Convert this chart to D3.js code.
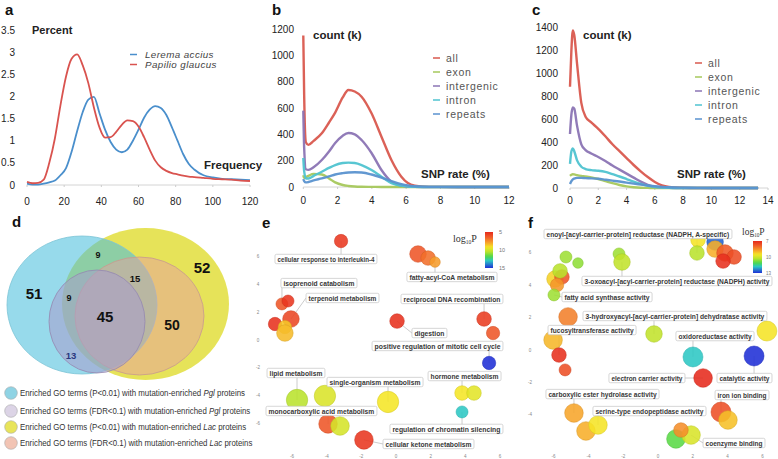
<!DOCTYPE html>
<html><head><meta charset="utf-8">
<script src="https://cdn.jsdelivr.net/npm/d3@7"></script>
<style>
body{margin:0;background:#fff;}
svg{display:block;font-family:"Liberation Sans",Arial,sans-serif;}
</style></head><body>
<svg id="chart" width="778" height="459"></svg>
<script>
// ---------- Panel a data ----------
const aSeries = ["Lerema accius", "Papilio glaucus"];
const aFreq = [0,3,6,9,12,15,18,21,24,27,30,33,36,39,42,45,48,51,54,57,60,63,66,69,72,75,78,81,84,87,90,95,100,105,110,115,120];
const aLerema = [0.03,0.01,0.01,0.03,0.06,0.1,0.22,0.38,0.75,1.22,1.65,1.93,1.99,1.62,1.25,0.97,0.8,0.74,0.8,1.0,1.25,1.52,1.7,1.78,1.74,1.58,1.3,1.0,0.7,0.48,0.35,0.22,0.17,0.14,0.13,0.12,0.11];
const aPapilio = [0.07,0.04,0.05,0.12,0.5,1.05,1.8,2.45,2.85,2.95,2.7,2.3,1.75,1.3,1.07,1.08,1.2,1.36,1.46,1.44,1.32,1.08,0.8,0.55,0.4,0.32,0.27,0.24,0.21,0.19,0.18,0.16,0.14,0.13,0.12,0.1,0.09];
const aYTicks = [0,0.5,1,1.5,2,2.5,3,3.5];
const aXTicks = [0,20,40,60,80,100,120];

// ---------- Panel b data ----------
const snpSeries = ["all","exon","intergenic","intron","repeats"];
const bRate = [0,0.05,0.15,0.3,0.6,1.08,1.5,1.86,2.3,2.63,3,3.4,3.98,4.56,5.14,5.72,6.1,6.5,7,8,9,10,11,12];
const bAll = [1150,700,340,320,350,408,490,565,680,737,725,686,560,382,205,78,30,10,3,1,0,0,0,0];
const bExon = [90,70,75,85,100,95,65,35,15,8,4,2,1,0,0,0,0,0,0,0,0,0,0,0];
const bIntergenic = [580,300,135,130,150,205,270,334,390,410,400,357,258,129,40,10,3,1,0,0,0,0,0,0];
const bIntron = [220,120,65,65,85,116,145,167,182,185,182,167,129,78,30,10,3,1,0,0,0,0,0,0];
const bRepeats = [60,45,35,38,50,65,80,95,105,110,112,110,95,72,45,22,12,6,3,1,0,0,0,0];
const bYTicks = [0,200,400,600,800,1000,1200];
const bXTicks = [0,2,4,6,8,10,12];

// ---------- Panel c data ----------
const cRate = [0,0.1,0.2,0.3,0.5,0.8,1.1,1.5,2,2.5,3,3.5,4,4.5,5,5.5,6,6.5,7,8,9,10,11,12,13,13.3];
const cAll = [880,1200,1370,1330,1080,740,620,570,515,450,380,320,260,200,145,95,52,22,9,2,0,0,0,0,0,0];
const cExon = [105,115,120,118,112,105,100,92,78,60,42,26,14,6,2,1,0,0,0,0,0,0,0,0,0,0];
const cIntergenic = [470,640,700,690,540,380,330,300,270,235,195,160,125,90,55,28,12,5,2,0,0,0,0,0,0,0];
const cIntron = [210,320,345,320,240,185,165,155,150,140,120,100,78,55,35,18,8,3,1,0,0,0,0,0,0,0];
const cRepeats = [35,60,75,82,88,88,86,84,80,72,64,56,47,38,30,22,15,10,6,3,1,0.5,0,0,0,0];
const cYTicks = [0,200,400,600,800,1000,1200,1400];
const cXTicks = [0,2,4,6,8,10,12,14];

// ---------- Panel d data ----------
const vennLegend = [
  ["Enriched GO terms (P<0.01) with mutation-enriched ", "Pgl", " proteins"],
  ["Enriched GO terms (FDR<0.1) with mutation-enriched ", "Pgl", " proteins"],
  ["Enriched GO terms (P<0.01) with mutation-enriched ", "Lac", " proteins"],
  ["Enriched GO terms (FDR<0.1) with mutation-enriched ", "Lac", " proteins"]
];
const vennCounts = [51, 9, 52, 15, 9, 45, 50, 13];

// ---------- Panel e data ----------
const eX = [-3.17,1.27,1.85,2.25,-6.58,-6.23,-6.06,-6.98,-6.41,-6.41,0.06,5.08,5.60,5.37,-5.71,-4.10,-0.46,3.81,4.50,3.81,-3.92,-3.23,-1.85];
const eY = [7.11,6.18,5.89,5.60,2.59,2.80,1.51,1.15,0.93,0.50,1.36,1.51,0.50,-1.65,-4.31,-4.02,-4.45,-3.81,-3.81,-5.17,-6.03,-6.18,-7.18];
const eSize = [390,600,465,245,315,315,600,390,390,600,465,465,390,390,1000,1000,1000,465,465,315,755,755,755];
const eLogP = [5.4,6.2,6.8,7.8,6.2,5.3,5.8,5.2,8.6,8.4,5.2,5.5,6.2,15,10.5,9.8,9.2,9.2,9.6,13,6.2,9.9,5.3];
const eTerms = ["cellular response to interleukin-4","fatty-acyl-CoA metabolism","isoprenoid catabolism","terpenoid metabolism","reciprocal DNA recombination","digestion","positive regulation of mitotic cell cycle","lipid metabolism","single-organism metabolism","hormone metabolism","monocarboxylic acid metabolism","regulation of chromatin silencing","cellular ketone metabolism"];
const eTicks = [-6,-4,-2,0,2,4,6];
const eColorTicks = [5,10,15];

// ---------- Panel f data ----------
const fX = [2.30,3.28,2.24,3.28,3.85,4.37,3.74,-5.29,-4.60,-2.24,-2.07,-5.92,-5.52,-5.63,-5.80,-5.98,-5.17,-6.03,-5.69,-5.34,-0.23,6.26,2.01,5.52,2.59,-4.83,-4.14,-3.45,3.62,4.02,1.03,1.90,1.32];
const fY = [6.79,6.67,5.99,6.23,5.99,5.74,5.49,5.74,5.37,5.93,5.43,4.38,4.51,4.88,4.01,3.40,2.04,0.62,-0.31,-1.23,0.99,1.17,-0.43,-0.37,-1.73,-3.89,-5.0,-4.63,-3.83,-4.32,-5.49,-5.25,-4.94];
const fSize = [465,600,465,600,600,465,465,315,245,315,600,600,465,465,390,315,755,755,465,315,600,873,873,873,755,755,755,755,873,755,755,755,465];
const fLogP = [9.5,12.6,10.3,8.9,7.8,7.6,7.1,10.5,10.6,10.5,10.2,9.3,7.7,10.3,8.6,10.5,8.3,9.0,7.1,7.6,10.2,9.5,11.8,13,7.0,8.8,8.9,9.5,7.6,9.1,11.0,9.9,8.5];
const fTerms = ["enoyl-[acyl-carrier-protein] reductase (NADPH, A-specific)","3-oxoacyl-[acyl-carrier-protein] reductase (NADPH) activity","fatty acid synthase activity","3-hydroxyacyl-[acyl-carrier-protein] dehydratase activity","fucosyltransferase activity","oxidoreductase activity","electron carrier activity","catalytic activity","carboxylic ester hydrolase activity","iron ion binding","serine-type endopeptidase activity","coenzyme binding"];
const fXTicks = [-6,-4,-2,0,2,4,6];
const fYTicks = [-4,-2,0,2,4,6];
const fColorTicks = [7,10,13];

// ---------- layout (annotation placement, in plot units) ----------
const eLabelLayout = [[-6.98,-1.10,5.82,0],[0.63,5.83,4.53,3],[-6.64,-2.25,4.09,4],[-5.19,-0.98,3.02,6],[0.29,6.17,2.95,11],[0.92,2.94,0.5,10],[-1.38,6.17,-0.43,13],[-7.44,-4.10,-2.37,14],[-3.98,1.56,-3.02,16],[1.85,6.06,-2.59,17],[-7.50,-1.10,-5.10,20],[-0.35,6.17,-6.39,19],[-0.75,4.50,-7.47,22]];
const fLabelLayout = [[-6.55,4.25,7.16,2],[-4.37,6.55,4.26,10],[-5.52,-0.34,3.27,15],[-4.31,6.26,2.10,20],[-6.32,-1.26,1.23,18],[1.03,5.52,0.86,22],[-2.82,1.55,-1.73,24],[3.39,6.55,-1.73,23],[-6.44,0.06,-2.72,25],[3.28,6.38,-2.78,28],[-3.74,2.76,-3.77,27],[2.59,6.15,-5.74,31]];

// ================= drawing =================
const svg = d3.select("#chart");
svg.append("rect").attr("width",778).attr("height",459).attr("fill","#fff");

function text(x,y,s,o={}){
  const t = svg.append("text").attr("x",x).attr("y",y).text(s)
    .attr("font-size",o.size||10).attr("fill",o.fill||"#222")
    .attr("text-anchor",o.anchor||"start");
  if(o.weight) t.attr("font-weight",o.weight);
  if(o.style) t.attr("font-style",o.style);
  if(o.family) t.attr("font-family",o.family);
  if(o.ls) t.attr("letter-spacing",o.ls);
  return t;
}
// text squeezed horizontally to a target width
function fitText(x,y,s,width,o={}){
  const g = svg.append("g").attr("transform",`translate(${x},${y})`);
  const t = g.append("text").attr("x",0).attr("y",0).text(s)
    .attr("font-size",o.size||8).attr("fill",o.fill||"#333");
  if(o.weight) t.attr("font-weight",o.weight);
  const w = t.node().getComputedTextLength();
  t.attr("transform",`scale(${Math.min(1,width/w)},1)`);
  return t;
}

// panel letters
[["a",5,15],["b",272,15],["c",532,15],["d",12,227],["e",262,228],["f",528,228]].forEach(d=>text(d[1],d[2],d[0],{size:15,weight:"bold",fill:"#111"}));

// ----- Panel a -----
{
  const x = d3.scaleLinear().domain([0,120]).range([27,250]);
  const y = d3.scaleLinear().domain([0,3.5]).range([185,30]);
  svg.append("line").attr("x1",x(0)).attr("x2",x(120)).attr("y1",y(0)).attr("y2",y(0)).attr("stroke","#d4d4d4");
  aXTicks.forEach(v=>{
    svg.append("line").attr("x1",x(v)).attr("x2",x(v)).attr("y1",y(0)).attr("y2",y(0)+2).attr("stroke","#ccc");
    text(x(v),205,v,{anchor:"middle",size:10});
  });
  aYTicks.forEach(v=>text(15,y(v)+3.5,v,{anchor:"end",size:10}));
  const line = d3.line().x((d,i)=>x(aFreq[i])).y(d=>y(d)).curve(d3.curveMonotoneX);
  const cols = ["#4a8fcc","#d9534f"];
  [aLerema,aPapilio].forEach((s,k)=>svg.append("path").attr("d",line(s)).attr("fill","none").attr("stroke",cols[k]).attr("stroke-width",1.8));
  aSeries.forEach((s,k)=>{
    const yy = 54.5+k*10;
    svg.append("line").attr("x1",130).attr("x2",137).attr("y1",yy).attr("y2",yy).attr("stroke",cols[k]).attr("stroke-width",1.5);
    text(145,yy+3.2,s,{size:9.8,style:"italic",fill:"#444",ls:0.4});
  });
  text(32,34,"Percent",{size:11,weight:"bold"});
  text(204,169,"Frequency",{size:11.5,weight:"bold"});
}

// ----- Panels b, c -----
const snpColors = ["#d9584e","#a6c85c","#8b74b4","#4fc3d0","#5a92cf"];
function snpPanel(rate, series, xd, xr, yd, yr, xTicks, yTicks, yLabX, legX, legY0, cntX, snpX){
  const x = d3.scaleLinear().domain(xd).range(xr);
  const y = d3.scaleLinear().domain(yd).range(yr);
  svg.append("line").attr("x1",x(xd[0])).attr("x2",x(xd[1])).attr("y1",y(0)).attr("y2",y(0)).attr("stroke","#d4d4d4");
  xTicks.forEach(v=>{
    svg.append("line").attr("x1",x(v)).attr("x2",x(v)).attr("y1",y(0)).attr("y2",y(0)+2).attr("stroke","#ccc");
    text(x(v),204,v,{anchor:"middle",size:10});
  });
  yTicks.forEach(v=>text(yLabX,y(v)+3.5,v,{anchor:"end",size:10}));
  const line = d3.line().x((d,i)=>x(rate[i])).y(d=>y(d)).curve(d3.curveMonotoneX);
  series.forEach((s,k)=>svg.append("path").attr("d",line(s)).attr("fill","none").attr("stroke",snpColors[k]).attr("stroke-width",2.4).attr("stroke-linejoin","round").attr("opacity",0.95));
  snpSeries.forEach((s,k)=>{
    const yy = legY0 + k*14;
    svg.append("line").attr("x1",legX).attr("x2",legX+7).attr("y1",yy).attr("y2",yy).attr("stroke",snpColors[k]).attr("stroke-width",1.5);
    text(legX+13,yy+3.5,s,{size:10.5,fill:"#555",ls:0.7});
  });
  text(cntX,39,"count (k)",{size:11.5,weight:"bold"});
  text(snpX,178,"SNP rate (%)",{size:11.5,weight:"bold"});
}
snpPanel(bRate,[bAll,bExon,bIntergenic,bIntron,bRepeats],[0,12],[303.3,509],[0,1200],[187,29],bXTicks,bYTicks,294,433,58,313,421);
snpPanel(cRate,[cAll,cExon,cIntergenic,cIntron,cRepeats],[0,14],[570,768],[0,1400],[188,27],cXTicks,cYTicks,558,695,63,583,677);

// ----- Panel d (Venn) -----
{
  const sets = [
    {cx:145.5,cy:304,rx:83.5,ry:76,fill:"#e0dc30",op:0.8,stroke:"none"},
    {cx:82,cy:305,rx:75,ry:69,fill:"#4cc0dc",op:0.58,stroke:"#7cc4d6"},
    {cx:139.5,cy:316,rx:64.5,ry:59,fill:"#e6a0a0",op:0.5,stroke:"#c89a8e"},
    {cx:97,cy:321.5,rx:48,ry:51.5,fill:"#a89ccc",op:0.55,stroke:"#9488b0"}
  ];
  sets.forEach(s=>svg.append("ellipse").attr("cx",s.cx).attr("cy",s.cy).attr("rx",s.rx).attr("ry",s.ry)
    .attr("fill",s.fill).attr("fill-opacity",s.op).attr("stroke",s.stroke).attr("stroke-width",0.8));
  const pos = [[34,294,15],[98,255,9],[202,268,15],[135,279,9.5],[69,298,9],[105,317,15],[172,325,14],[71,356,9.5]];
  vennCounts.forEach((v,i)=>text(pos[i][0],pos[i][1]+pos[i][2]*0.36,v,{anchor:"middle",size:pos[i][2],weight:"bold",fill:i===7?"#2a3880":"#111"}));
  const legCols = ["#8fd3e4","#dcd4e6","#e8e45a","#f2c4b4"];
  const legY = [393,411,427,443];
  const legW = [225,230,226,232];
  vennLegend.forEach((parts,i)=>{
    svg.append("circle").attr("cx",11).attr("cy",legY[i]).attr("r",6.3).attr("fill",legCols[i]).attr("stroke","#aaa").attr("stroke-width",0.6);
    const g = svg.append("g").attr("transform",`translate(20,${legY[i]+3})`);
    const t = g.append("text").attr("x",0).attr("y",0).attr("font-size",8.4).attr("fill","#333");
    t.append("tspan").text(parts[0]);
    t.append("tspan").text(parts[1]).attr("font-style","italic");
    t.append("tspan").text(parts[2]);
    const w = t.node().getComputedTextLength();
    t.attr("transform",`scale(${legW[i]/w},1)`);
  });
}

// ----- bubble panels -----
const stops = ["#e62a1c","#f0602a","#f7a52a","#f5e626","#b9e22c","#4fd84a","#2cc7c4","#1f2fd6"];
const stopT = [0,0.15,0.3,0.42,0.55,0.68,0.8,1];
const colorT = d3.scaleLinear().domain(stopT).range(stops).interpolate(d3.interpolateRgb);
let gradId = 0;
function bubblePanel(X,Y,S,P,terms,layout,xdom,xr,ydom,yr,pdom,xTicks,yTicks,tickX,tickY,cb){
  const x = d3.scaleLinear().domain(xdom).range(xr);
  const y = d3.scaleLinear().domain(ydom).range(yr);
  const r = d3.scaleSqrt().domain([0,1000]).range([0,10.7]);
  const c = v=>colorT((v-pdom[0])/(pdom[1]-pdom[0]));
  xTicks.forEach(v=>text(x(v),tickY,v,{anchor:"middle",size:4.5,fill:"#888"}));
  yTicks.forEach(v=>text(tickX,y(v)+1.5,v,{anchor:"middle",size:4.5,fill:"#888"}));
  layout.forEach(l=>{
    const bx = x(X[l[3]]), by = y(Y[l[3]]);
    const x0 = x(l[0]), x1 = x(l[1]), ly = y(l[2]);
    const lx = Math.max(x0, Math.min(x1, bx));
    svg.append("line").attr("x1",lx).attr("y1",ly).attr("x2",bx).attr("y2",by).attr("stroke","#aaa").attr("stroke-width",0.6);
  });
  X.forEach((v,i)=>svg.append("circle").attr("cx",x(v)).attr("cy",y(Y[i])).attr("r",r(S[i]))
    .attr("fill",c(P[i])).attr("fill-opacity",0.88).attr("stroke",d3.color(c(P[i])).darker(0.4)).attr("stroke-width",0.5));
  layout.forEach((l,i)=>{
    const x0 = x(l[0]), x1 = x(l[1]), ly = y(l[2]);
    svg.append("rect").attr("x",x0).attr("y",ly-4.7).attr("width",x1-x0).attr("height",9.4).attr("rx",1.5)
      .attr("fill","#fff").attr("fill-opacity",0.95).attr("stroke","#c4c4c4").attr("stroke-width",0.7);
    fitText(x0+2.5,ly+2.6,terms[i],x1-x0-5,{size:7.4,weight:"bold",fill:"#383838"});
  });
  const id = "grad"+(gradId++);
  const grad = svg.append("defs").append("linearGradient").attr("id",id).attr("x1",0).attr("x2",0).attr("y1",0).attr("y2",1);
  d3.range(0,1.001,0.05).forEach(t=>grad.append("stop").attr("offset",t).attr("stop-color",colorT(t)));
  const cy = d3.scaleLinear().domain(pdom).range([cb.y0,cb.y1]);
  svg.append("rect").attr("x",cb.x).attr("y",cb.y0).attr("width",cb.w).attr("height",cb.y1-cb.y0).attr("fill",`url(#${id})`);
  cb.ticks.forEach(v=>text(cb.x+cb.w+cb.tg,cy(v)+2,v,{size:cb.fs,fill:"#777"}));
  const lt = svg.append("text").attr("x",cb.lx).attr("y",cb.ly).attr("font-family","'Liberation Serif','DejaVu Serif',serif").attr("font-size",cb.lfs).attr("fill","#333");
  lt.append("tspan").text("log");
  lt.append("tspan").text("10").attr("font-size",cb.lfs*0.55).attr("dy",1.5);
  lt.append("tspan").text("P").attr("dy",-1.5);
}
bubblePanel(eX,eY,eSize,eLogP,eTerms,eLabelLayout,[-6,6],[292,500],[-6,6],[423.5,256.5],[5,15],eTicks,eTicks,258,458,
  {x:485,w:8,y0:232,y1:268,ticks:eColorTicks,fs:5.5,tg:6,lx:453,ly:242,lfs:10});
bubblePanel(fX,fY,fSize,fLogP,fTerms,fLabelLayout,[-6,6],[553.6,762.4],[-4,6],[414.8,252.8],[7,13],fXTicks,fYTicks,530,458,
  {x:753,w:9,y0:241,y1:273,ticks:fColorTicks,fs:4.5,tg:4,lx:742,ly:235,lfs:9.5});
</script>
</body></html>
